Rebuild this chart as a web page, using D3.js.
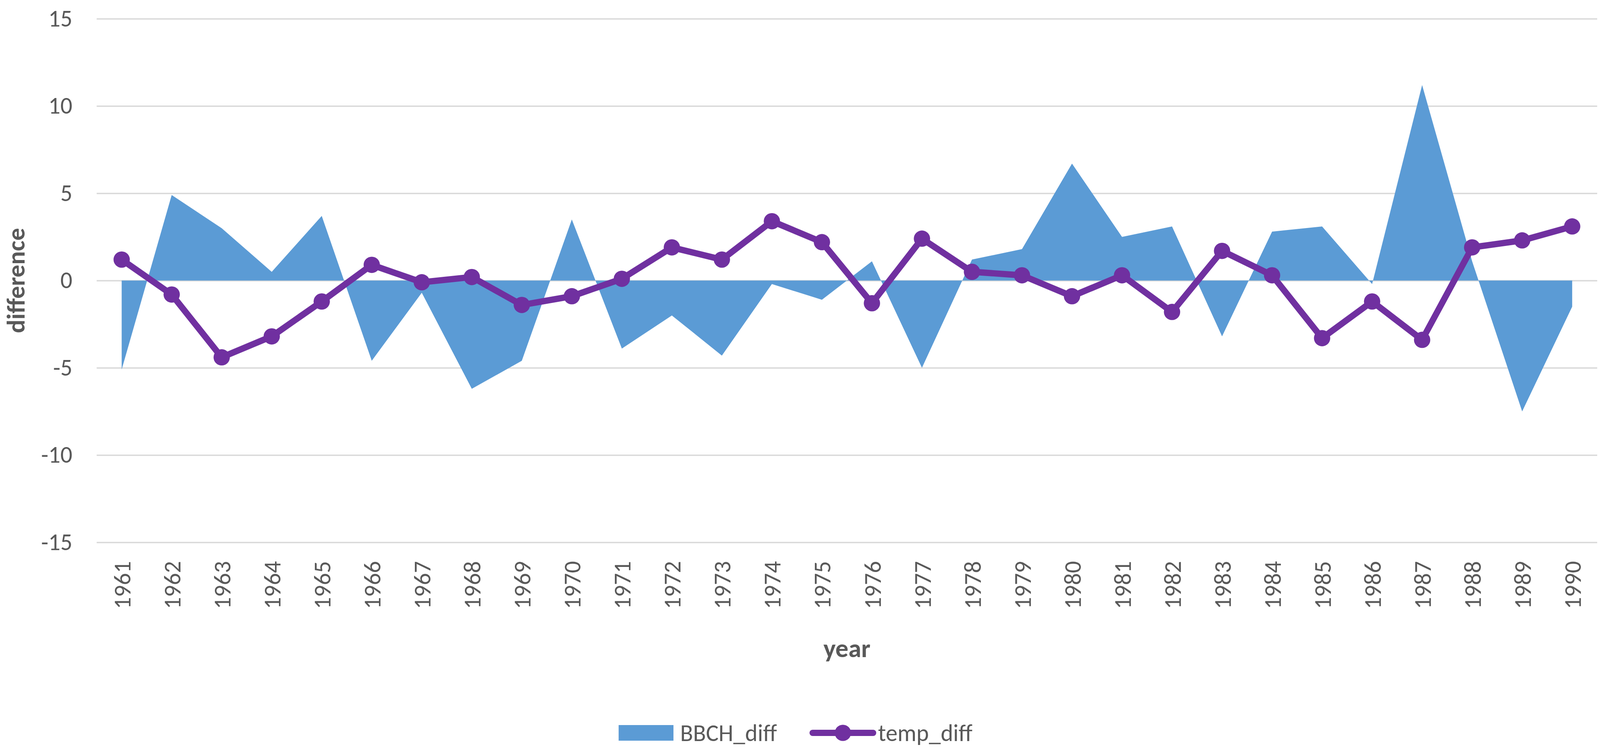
<!DOCTYPE html>
<html>
<head>
<meta charset="utf-8">
<script src="https://cdn.jsdelivr.net/npm/d3@7"></script>
<style>
    html, body { margin: 0; padding: 0; background: #fff; overflow: hidden; }
    svg { display: block; }
    text { font-family: Carlito, Lato, "Open Sans", sans-serif; fill: #595959; }
</style>
</head>
<body>
<div id="chart"></div>
<script>
// data
var years = ["1961","1962","1963","1964","1965","1966","1967","1968","1969","1970",
             "1971","1972","1973","1974","1975","1976","1977","1978","1979","1980",
             "1981","1982","1983","1984","1985","1986","1987","1988","1989","1990"];
var bbchDiff = [-5.1, 4.9, 3.0, 0.5, 3.7, -4.6, -0.7, -6.2, -4.6, 3.5,
                -3.9, -2.0, -4.3, -0.2, -1.1, 1.1, -5.0, 1.2, 1.8, 6.7,
                2.5, 3.1, -3.2, 2.8, 3.1, -0.2, 11.2, 1.1, -7.5, -1.5];
var tempDiff = [1.2, -0.8, -4.4, -3.2, -1.2, 0.9, -0.1, 0.2, -1.4, -0.9,
                0.1, 1.9, 1.2, 3.4, 2.2, -1.3, 2.4, 0.5, 0.3, -0.9,
                0.3, -1.8, 1.7, 0.3, -3.3, -1.2, -3.4, 1.9, 2.3, 3.1];
var yTicks = [-15, -10, -5, 0, 5, 10, 15];
var seriesNames = ["BBCH_diff", "temp_diff"];

// layout is measured on a 4552x1926 picture, then fitted to the window
var width = window.innerWidth || 4552,
    height = window.innerHeight || 1926,
    sx = width / 4552,
    sy = height / 1926,
    fs = Math.sqrt(sx * sy),
    margin = {top: 48 * sy, right: 8 * sx, bottom: 537 * sy, left: 275 * sx},
    blue = "#5B9BD5",
    purple = "#7030A0";

var innerW = width - margin.left - margin.right,
    innerH = height - margin.top - margin.bottom;

var svg = d3.select("#chart")
    .append("svg")
    .attr("width", width)
    .attr("height", height);

svg.append("rect").attr("width", width).attr("height", height).attr("fill", "#fff");

var g = svg.append("g")
    .attr("transform", `translate(${margin.left},${margin.top})`);

var xScale = d3.scalePoint().domain(years).range([0, innerW]).padding(0.5);
var yScale = d3.scaleLinear().domain([-15, 15]).range([innerH, 0]);

// gridlines + y labels
var yAxis = d3.axisLeft(yScale)
    .tickValues(yTicks)
    .tickFormat(d => String(d))
    .tickSize(-innerW)
    .tickPadding(69 * sx);
var yg = g.append("g").attr("class", "y axis").call(yAxis);
yg.select(".domain").remove();
yg.selectAll(".tick line").attr("stroke", "#d9d9d9").attr("stroke-width", 3.5 * sy);
yg.selectAll(".tick text")
    .attr("font-size", 64 * fs)
    .attr("font-family", null)
    .attr("fill", "#595959");

// BBCH_diff area
var area = d3.area()
    .x((d, i) => xScale(years[i]))
    .y0(yScale(0))
    .y1(d => yScale(d));

g.append("path")
    .datum(bbchDiff)
    .attr("fill", blue)
    .attr("d", area);

// temp_diff line with markers
var line = d3.line()
    .x((d, i) => xScale(years[i]))
    .y(d => yScale(d));

g.append("path")
    .datum(tempDiff)
    .attr("fill", "none")
    .attr("stroke", purple)
    .attr("stroke-width", 17 * fs)
    .attr("stroke-linejoin", "round")
    .attr("d", line);

g.selectAll(".dot")
    .data(tempDiff)
    .enter().append("circle")
    .attr("class", "dot")
    .attr("cx", (d, i) => xScale(years[i]))
    .attr("cy", d => yScale(d))
    .attr("r", 22 * fs)
    .attr("fill", purple);

// x labels, rotated
var xAxis = d3.axisBottom(xScale).tickSize(0).tickPadding(0);
var xg = g.append("g")
    .attr("class", "x axis")
    .attr("transform", `translate(0,${innerH})`)
    .call(xAxis);
xg.select(".domain").remove();
xg.selectAll(".tick text")
    .attr("font-size", 64 * fs)
    .attr("font-family", null)
    .attr("fill", "#595959")
    .attr("text-anchor", "end")
    .attr("transform", "rotate(-90)")
    .attr("x", -48 * sy)
    .attr("y", 0)
    .attr("dy", "0.36em");

// axis titles
svg.append("text")
    .attr("transform", `translate(${70 * sx},${margin.top + innerH / 2}) rotate(-90)`)
    .attr("text-anchor", "middle")
    .attr("font-size", 68 * fs)
    .attr("font-weight", "bold")
    .text("difference");

svg.append("text")
    .attr("x", margin.left + innerW / 2)
    .attr("y", 1683 * sy)
    .attr("text-anchor", "middle")
    .attr("font-size", 70 * fs)
    .attr("font-weight", "bold")
    .text("year");

// legend
var legend = svg.append("g").attr("transform", `translate(${1760 * sx},${1877 * sy})`);

var item0 = legend.append("g");
item0.append("rect")
    .attr("x", 0).attr("y", -20 * sy)
    .attr("width", 156 * sx).attr("height", 40 * sy)
    .attr("fill", blue);
item0.append("text")
    .attr("x", 175 * sx).attr("y", 0).attr("dy", "0.35em")
    .attr("font-size", 64 * fs)
    .text(seriesNames[0]);

var item1 = legend.append("g").attr("transform", `translate(${552 * sx},0)`);
item1.append("line")
    .attr("x1", 0).attr("x2", 172 * sx)
    .attr("stroke", purple)
    .attr("stroke-width", 17 * fs)
    .attr("stroke-linecap", "round");
item1.append("circle")
    .attr("cx", 86 * sx).attr("r", 22 * fs)
    .attr("fill", purple);
item1.append("text")
    .attr("x", 186 * sx).attr("y", 0).attr("dy", "0.35em")
    .attr("font-size", 64 * fs)
    .text(seriesNames[1]);
</script>
</body>
</html>
